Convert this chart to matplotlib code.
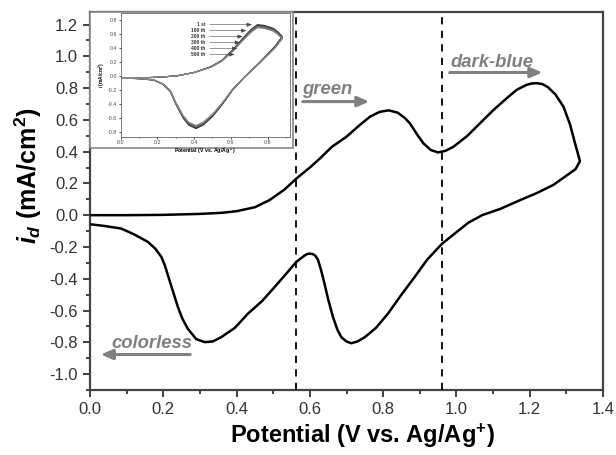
import matplotlib
matplotlib.use("Agg")
import matplotlib.pyplot as plt
from matplotlib.patches import Rectangle
from matplotlib.ticker import MultipleLocator

plt.rcParams['font.family'] = ['Liberation Sans', 'DejaVu Sans']
plt.rcParams['axes.unicode_minus'] = False
plt.rcParams['mathtext.fontset'] = 'custom'
plt.rcParams['mathtext.rm'] = 'Liberation Sans:bold'
plt.rcParams['mathtext.it'] = 'Liberation Sans:bold:italic'
plt.rcParams['mathtext.bf'] = 'Liberation Sans:bold'

# main CV loop (anodic sweep then reverse)
pot = [0.00, 0.10, 0.20, 0.30, 0.36, 0.40, 0.45, 0.49, 0.53, 0.563, 0.60, 0.628, 0.66, 0.70,
       0.735, 0.764, 0.79, 0.815, 0.84, 0.86, 0.873, 0.895, 0.91, 0.93, 0.95, 0.97, 0.992, 1.03,
       1.064, 1.10, 1.137, 1.165, 1.191, 1.205, 1.219, 1.235, 1.25, 1.27, 1.292, 1.31, 1.325, 1.337,
       1.325, 1.31, 1.264, 1.22, 1.174, 1.12, 1.07, 1.032, 0.961, 0.92, 0.886, 0.85, 0.813,
       0.78, 0.75, 0.73, 0.713, 0.70, 0.686, 0.675, 0.663, 0.65, 0.64, 0.63, 0.622, 0.615, 0.607,
       0.60, 0.593, 0.585, 0.563, 0.535, 0.504, 0.47, 0.431, 0.395, 0.358, 0.335, 0.313, 0.29,
       0.267, 0.252, 0.240, 0.228, 0.217, 0.205, 0.195, 0.178, 0.158, 0.12, 0.085, 0.04, 0.00]
cur = [0.000, 0.000, 0.002, 0.008, 0.015, 0.025, 0.05, 0.095, 0.16, 0.23, 0.30, 0.358, 0.43, 0.494,
       0.565, 0.62, 0.65, 0.66, 0.645, 0.61, 0.578, 0.50, 0.452, 0.41, 0.395, 0.405, 0.431, 0.50,
       0.578, 0.66, 0.736, 0.79, 0.82, 0.829, 0.831, 0.825, 0.805, 0.76, 0.683, 0.57, 0.44, 0.34,
       0.29, 0.265, 0.19, 0.14, 0.095, 0.04, 0.00, -0.048, -0.179, -0.28, -0.389, -0.50, -0.62,
       -0.71, -0.768, -0.795, -0.806, -0.795, -0.768, -0.72, -0.64, -0.53, -0.431, -0.34, -0.28, -0.255, -0.244,
       -0.242, -0.244, -0.255, -0.294, -0.37, -0.452, -0.54, -0.62, -0.71, -0.768, -0.795, -0.799, -0.78,
       -0.715, -0.65, -0.578, -0.49, -0.41, -0.32, -0.263, -0.21, -0.168, -0.12, -0.084, -0.068, -0.057]

vlines = [0.562, 0.961]

# inset: first cycle and relative size of later cycles
ins_pot = [0.00, 0.10, 0.20, 0.305, 0.40, 0.49, 0.55, 0.61, 0.66, 0.71, 0.745, 0.78, 0.83, 0.86, 0.88,
           0.84, 0.76, 0.67, 0.61, 0.55, 0.50, 0.45, 0.41, 0.37, 0.34, 0.30, 0.27, 0.23, 0.18, 0.10, 0.00]
ins_cur = [-0.03, -0.03, -0.02, 0.00, 0.05, 0.13, 0.22, 0.37, 0.52, 0.66, 0.73, 0.72, 0.68, 0.62, 0.56,
           0.42, 0.20, -0.03, -0.20, -0.42, -0.58, -0.70, -0.75, -0.70, -0.60, -0.40, -0.22, -0.12, -0.06, -0.04, -0.03]
cycles = ['1 st', '100 th', '200 th', '300 th', '400 th', '500 th']
cycle_scale = [1.0, 0.985, 0.972, 0.96, 0.95, 0.94]
cycle_tip_x = [0.73, 0.70, 0.68, 0.665, 0.65, 0.635]

fig = plt.figure(figsize=(6.16, 4.55), dpi=100)
ax = fig.add_axes([0.146, 0.143, 0.833, 0.831])

ax.plot(pot, cur, color='black', lw=1.8, zorder=3)
for v in vlines:
    ax.axvline(v, color='black', lw=1.3, ls=(0, (4, 3.5)), zorder=8)

grey = '#808080'
arrow = dict(arrowstyle='-|>,head_length=0.7,head_width=0.3', color=grey, lw=2.2)
ax.annotate('', xy=(0.77, 0.715), xytext=(0.573, 0.715), arrowprops=arrow)
ax.text(0.578, 0.79, 'green', color=grey, fontsize=13.3, fontweight='bold', fontstyle='italic', va='center')
ax.annotate('', xy=(1.242, 0.898), xytext=(0.974, 0.898), arrowprops=arrow)
ax.text(0.985, 0.96, 'dark-blue', color=grey, fontsize=13.3, fontweight='bold', fontstyle='italic', va='center')
ax.annotate('', xy=(0.022, -0.877), xytext=(0.281, -0.877), arrowprops=arrow)
ax.text(0.058, -0.81, 'colorless', color=grey, fontsize=13.3, fontweight='bold', fontstyle='italic', va='center')

ax.xaxis.set_minor_locator(MultipleLocator(0.1))
ax.yaxis.set_minor_locator(MultipleLocator(0.1))
xt = [0.0, 0.2, 0.4, 0.6, 0.8, 1.0, 1.2, 1.4]
yt = [-1.0, -0.8, -0.6, -0.4, -0.2, 0.0, 0.2, 0.4, 0.6, 0.8, 1.0, 1.2]
ax.set_xticks(xt)
ax.set_xticklabels([f'{t:.1f}' for t in xt])
ax.set_yticks(yt)
ax.set_yticklabels([f'{t:.1f}' for t in yt])
ax.set_ylim(-1.10, 1.28)
ax.set_xlim(0, 1.4)
ax.tick_params(which='both', direction='out', color='#333333', width=1.3, labelsize=12, labelcolor='#333333')
ax.tick_params(which='major', length=5)
ax.tick_params(which='minor', length=3)
ax.tick_params(top=False, right=False)
for s in ax.spines.values():
    s.set_linewidth(1.6)
    s.set_color('#444444')
ax.set_xlabel('Potential (V vs. Ag/Ag$^{\\mathbf{+}}$)', fontsize=17, fontweight='bold', labelpad=3)
ax.xaxis.set_label_coords(0.53, -0.085)
ax.set_ylabel('$i_d$ (mA/cm$^2$)', fontsize=18, fontweight='bold')
ax.yaxis.set_label_coords(-0.09, 0.566)

# inset frame
fig.patches.append(Rectangle((90 / 616, 1 - 148 / 455), 203 / 616, 136 / 455, transform=fig.transFigure,
                             facecolor='white', edgecolor='#888888', lw=1.2, zorder=5))

ins = fig.add_axes([0.196, 0.699, 0.274, 0.273], zorder=6)
greys = ['#222222', '#444444', '#555555', '#666666', '#777777', '#888888']
for k in range(len(cycles)):
    ins.plot(ins_pot, [c * cycle_scale[k] for c in ins_cur], color=greys[k], lw=0.8)
for k in range(len(cycles)):
    yy = 0.73 - k * 0.085
    ins.annotate('', xy=(cycle_tip_x[k], yy), xytext=(0.47, yy),
                 arrowprops=dict(arrowstyle='-|>,head_length=0.3,head_width=0.12', color='#444444', lw=0.4))
    ins.text(0.46, yy, cycles[k], fontsize=3.5, fontweight='bold', ha='right', va='center', color='#333333')
ins.set_xlim(0, 0.92)
ins.set_ylim(-0.87, 0.9)
ins.xaxis.set_minor_locator(MultipleLocator(0.1))
ins.set_xticks([0.0, 0.2, 0.4, 0.6, 0.8])
ins.set_xticklabels(['0.0', '0.2', '0.4', '0.6', '0.8'])
ins.set_yticks([-0.8, -0.6, -0.4, -0.2, 0.0, 0.2, 0.4, 0.6, 0.8])
ins.set_yticklabels(['-0.8', '-0.6', '-0.4', '-0.2', '0.0', '0.2', '0.4', '0.6', '0.8'])
ins.tick_params(which='both', direction='out', length=1.5, width=0.5, labelsize=3.8, pad=1, labelcolor='#444444')
ins.tick_params(which='minor', length=1)
for s in ins.spines.values():
    s.set_linewidth(0.6)
    s.set_color('#666666')
ins.set_xlabel('Potential (V vs. Ag/Ag$^+$)', fontsize=3.8, fontweight='bold', labelpad=1)
ins.set_ylabel('$i$ (mA/cm$^2$)', fontsize=3.5, fontweight='bold', labelpad=1)

fig.savefig('out.png', dpi=100)
